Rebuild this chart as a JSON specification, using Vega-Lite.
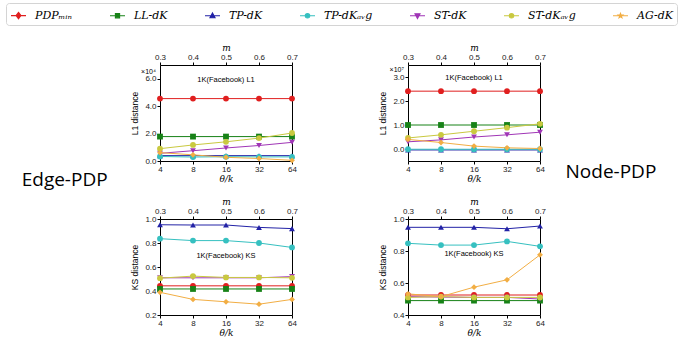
{
"$schema":"https://vega.github.io/schema/vega-lite/v6.json",
"padding":{"left":5,"top":2,"right":0,"bottom":0},
"datasets":{
"edgeL1":[
{"series":"PDPₘᵢₙ","theta":4,"m":0.3,"v":45500},{"series":"PDPₘᵢₙ","theta":8,"m":0.4,"v":45500},{"series":"PDPₘᵢₙ","theta":16,"m":0.5,"v":45500},{"series":"PDPₘᵢₙ","theta":32,"m":0.6,"v":45500},{"series":"PDPₘᵢₙ","theta":64,"m":0.7,"v":45500},
{"series":"LL-dK","theta":4,"m":0.3,"v":17800},{"series":"LL-dK","theta":8,"m":0.4,"v":17800},{"series":"LL-dK","theta":16,"m":0.5,"v":17800},{"series":"LL-dK","theta":32,"m":0.6,"v":17800},{"series":"LL-dK","theta":64,"m":0.7,"v":17800},
{"series":"TP-dK","theta":4,"m":0.3,"v":3900},{"series":"TP-dK","theta":8,"m":0.4,"v":3900},{"series":"TP-dK","theta":16,"m":0.5,"v":3900},{"series":"TP-dK","theta":32,"m":0.6,"v":3900},{"series":"TP-dK","theta":64,"m":0.7,"v":3900},
{"series":"TP-dKₐᵥg","theta":4,"m":0.3,"v":3300},{"series":"TP-dKₐᵥg","theta":8,"m":0.4,"v":2900},{"series":"TP-dKₐᵥg","theta":16,"m":0.5,"v":3100},{"series":"TP-dKₐᵥg","theta":32,"m":0.6,"v":3000},{"series":"TP-dKₐᵥg","theta":64,"m":0.7,"v":3000},
{"series":"ST-dK","theta":4,"m":0.3,"v":5600},{"series":"ST-dK","theta":8,"m":0.4,"v":7500},{"series":"ST-dK","theta":16,"m":0.5,"v":9500},{"series":"ST-dK","theta":32,"m":0.6,"v":11300},{"series":"ST-dK","theta":64,"m":0.7,"v":13600},
{"series":"ST-dKₐᵥg","theta":4,"m":0.3,"v":9000},{"series":"ST-dKₐᵥg","theta":8,"m":0.4,"v":11700},{"series":"ST-dKₐᵥg","theta":16,"m":0.5,"v":14000},{"series":"ST-dKₐᵥg","theta":32,"m":0.6,"v":16700},{"series":"ST-dKₐᵥg","theta":64,"m":0.7,"v":20400},
{"series":"AG-dK","theta":4,"m":0.3,"v":6100},{"series":"AG-dK","theta":8,"m":0.4,"v":4500},{"series":"AG-dK","theta":16,"m":0.5,"v":2700},{"series":"AG-dK","theta":32,"m":0.6,"v":1800},{"series":"AG-dK","theta":64,"m":0.7,"v":500}
],
"nodeL1":[
{"series":"PDPₘᵢₙ","theta":4,"m":0.3,"v":24100000},{"series":"PDPₘᵢₙ","theta":8,"m":0.4,"v":24100000},{"series":"PDPₘᵢₙ","theta":16,"m":0.5,"v":24100000},{"series":"PDPₘᵢₙ","theta":32,"m":0.6,"v":24100000},{"series":"PDPₘᵢₙ","theta":64,"m":0.7,"v":24100000},
{"series":"LL-dK","theta":4,"m":0.3,"v":10000000},{"series":"LL-dK","theta":8,"m":0.4,"v":10000000},{"series":"LL-dK","theta":16,"m":0.5,"v":10000000},{"series":"LL-dK","theta":32,"m":0.6,"v":10000000},{"series":"LL-dK","theta":64,"m":0.7,"v":10000000},
{"series":"TP-dK","theta":4,"m":0.3,"v":-400000},{"series":"TP-dK","theta":8,"m":0.4,"v":-400000},{"series":"TP-dK","theta":16,"m":0.5,"v":-400000},{"series":"TP-dK","theta":32,"m":0.6,"v":-400000},{"series":"TP-dK","theta":64,"m":0.7,"v":-400000},
{"series":"TP-dKₐᵥg","theta":4,"m":0.3,"v":-100000},{"series":"TP-dKₐᵥg","theta":8,"m":0.4,"v":-100000},{"series":"TP-dKₐᵥg","theta":16,"m":0.5,"v":-100000},{"series":"TP-dKₐᵥg","theta":32,"m":0.6,"v":-100000},{"series":"TP-dKₐᵥg","theta":64,"m":0.7,"v":-100000},
{"series":"ST-dK","theta":4,"m":0.3,"v":3000000},{"series":"ST-dK","theta":8,"m":0.4,"v":3800000},{"series":"ST-dK","theta":16,"m":0.5,"v":5000000},{"series":"ST-dK","theta":32,"m":0.6,"v":5900000},{"series":"ST-dK","theta":64,"m":0.7,"v":7000000},
{"series":"ST-dKₐᵥg","theta":4,"m":0.3,"v":4600000},{"series":"ST-dKₐᵥg","theta":8,"m":0.4,"v":5900000},{"series":"ST-dKₐᵥg","theta":16,"m":0.5,"v":7400000},{"series":"ST-dKₐᵥg","theta":32,"m":0.6,"v":8900000},{"series":"ST-dKₐᵥg","theta":64,"m":0.7,"v":10500000},
{"series":"AG-dK","theta":4,"m":0.3,"v":4000000},{"series":"AG-dK","theta":8,"m":0.4,"v":2700000},{"series":"AG-dK","theta":16,"m":0.5,"v":1200000},{"series":"AG-dK","theta":32,"m":0.6,"v":500000},{"series":"AG-dK","theta":64,"m":0.7,"v":200000}
],
"edgeKS":[
{"series":"PDPₘᵢₙ","theta":4,"m":0.3,"v":0.443},{"series":"PDPₘᵢₙ","theta":8,"m":0.4,"v":0.443},{"series":"PDPₘᵢₙ","theta":16,"m":0.5,"v":0.443},{"series":"PDPₘᵢₙ","theta":32,"m":0.6,"v":0.443},{"series":"PDPₘᵢₙ","theta":64,"m":0.7,"v":0.443},
{"series":"LL-dK","theta":4,"m":0.3,"v":0.417},{"series":"LL-dK","theta":8,"m":0.4,"v":0.417},{"series":"LL-dK","theta":16,"m":0.5,"v":0.417},{"series":"LL-dK","theta":32,"m":0.6,"v":0.417},{"series":"LL-dK","theta":64,"m":0.7,"v":0.417},
{"series":"TP-dK","theta":4,"m":0.3,"v":0.952},{"series":"TP-dK","theta":8,"m":0.4,"v":0.95},{"series":"TP-dK","theta":16,"m":0.5,"v":0.95},{"series":"TP-dK","theta":32,"m":0.6,"v":0.93},{"series":"TP-dK","theta":64,"m":0.7,"v":0.92},
{"series":"TP-dKₐᵥg","theta":4,"m":0.3,"v":0.836},{"series":"TP-dKₐᵥg","theta":8,"m":0.4,"v":0.82},{"series":"TP-dKₐᵥg","theta":16,"m":0.5,"v":0.82},{"series":"TP-dKₐᵥg","theta":32,"m":0.6,"v":0.8},{"series":"TP-dKₐᵥg","theta":64,"m":0.7,"v":0.763},
{"series":"ST-dK","theta":4,"m":0.3,"v":0.51},{"series":"ST-dK","theta":8,"m":0.4,"v":0.51},{"series":"ST-dK","theta":16,"m":0.5,"v":0.51},{"series":"ST-dK","theta":32,"m":0.6,"v":0.51},{"series":"ST-dK","theta":64,"m":0.7,"v":0.52},
{"series":"ST-dKₐᵥg","theta":4,"m":0.3,"v":0.507},{"series":"ST-dKₐᵥg","theta":8,"m":0.4,"v":0.524},{"series":"ST-dKₐᵥg","theta":16,"m":0.5,"v":0.513},{"series":"ST-dKₐᵥg","theta":32,"m":0.6,"v":0.513},{"series":"ST-dKₐᵥg","theta":64,"m":0.7,"v":0.51},
{"series":"AG-dK","theta":4,"m":0.3,"v":0.389},{"series":"AG-dK","theta":8,"m":0.4,"v":0.33},{"series":"AG-dK","theta":16,"m":0.5,"v":0.31},{"series":"AG-dK","theta":32,"m":0.6,"v":0.29},{"series":"AG-dK","theta":64,"m":0.7,"v":0.33}
],
"nodeKS":[
{"series":"PDPₘᵢₙ","theta":4,"m":0.3,"v":0.525},{"series":"PDPₘᵢₙ","theta":8,"m":0.4,"v":0.525},{"series":"PDPₘᵢₙ","theta":16,"m":0.5,"v":0.525},{"series":"PDPₘᵢₙ","theta":32,"m":0.6,"v":0.525},{"series":"PDPₘᵢₙ","theta":64,"m":0.7,"v":0.525},
{"series":"LL-dK","theta":4,"m":0.3,"v":0.49},{"series":"LL-dK","theta":8,"m":0.4,"v":0.49},{"series":"LL-dK","theta":16,"m":0.5,"v":0.49},{"series":"LL-dK","theta":32,"m":0.6,"v":0.49},{"series":"LL-dK","theta":64,"m":0.7,"v":0.49},
{"series":"TP-dK","theta":4,"m":0.3,"v":0.948},{"series":"TP-dK","theta":8,"m":0.4,"v":0.948},{"series":"TP-dK","theta":16,"m":0.5,"v":0.948},{"series":"TP-dK","theta":32,"m":0.6,"v":0.939},{"series":"TP-dK","theta":64,"m":0.7,"v":0.956},
{"series":"TP-dKₐᵥg","theta":4,"m":0.3,"v":0.848},{"series":"TP-dKₐᵥg","theta":8,"m":0.4,"v":0.837},{"series":"TP-dKₐᵥg","theta":16,"m":0.5,"v":0.837},{"series":"TP-dKₐᵥg","theta":32,"m":0.6,"v":0.86},{"series":"TP-dKₐᵥg","theta":64,"m":0.7,"v":0.829},
{"series":"ST-dK","theta":4,"m":0.3,"v":0.515},{"series":"ST-dK","theta":8,"m":0.4,"v":0.512},{"series":"ST-dK","theta":16,"m":0.5,"v":0.51},{"series":"ST-dK","theta":32,"m":0.6,"v":0.51},{"series":"ST-dK","theta":64,"m":0.7,"v":0.5},
{"series":"ST-dKₐᵥg","theta":4,"m":0.3,"v":0.51},{"series":"ST-dKₐᵥg","theta":8,"m":0.4,"v":0.515},{"series":"ST-dKₐᵥg","theta":16,"m":0.5,"v":0.51},{"series":"ST-dKₐᵥg","theta":32,"m":0.6,"v":0.51},{"series":"ST-dKₐᵥg","theta":64,"m":0.7,"v":0.51},
{"series":"AG-dK","theta":4,"m":0.3,"v":0.532},{"series":"AG-dK","theta":8,"m":0.4,"v":0.515},{"series":"AG-dK","theta":16,"m":0.5,"v":0.574},{"series":"AG-dK","theta":32,"m":0.6,"v":0.62},{"series":"AG-dK","theta":64,"m":0.7,"v":0.776}
]
},
"columns":2,
"spacing":{"row":58,"column":116},
"bounds":"flush",
"concat":[
{
"width":132,"height":96,
"data":{"name":"edgeL1"},
"layer":[
{"layer":[
{"mark":{"type":"line","strokeWidth":1},
"encoding":{
"x":{"field":"theta","type":"quantitative","title":"θ/k","scale":{"type":"log","base":2,"domain":[4,64]},"axis":{"values":[4,8,16,32,64],"format":"d","labelOverlap":false}},
"y":{"field":"v","type":"quantitative","title":"L1 distance","scale":{"domain":[0,65200]},"axis":{"values":[0,20000,40000,60000],"labelExpr":"format(datum.value/10000,'.1f')","labelOverlap":false,"labelSeparation":0}},
"color":{"field":"series","type":"nominal",
"scale":{"domain":["PDPₘᵢₙ","LL-dK","TP-dK","TP-dKₐᵥg","ST-dK","ST-dKₐᵥg","AG-dK"],"range":["#e01f1f","#178217","#2222a6","#36c0c0","#a036b6","#c9c940","#f2ae44"]},
"legend":{"orient":"none","legendX":-154,"legendY":-62,"direction":"horizontal","columns":7,"title":null,"symbolSize":225,"symbolStrokeWidth":1.1,"labelOffset":8,"columnPadding":34,"padding":4,"strokeColor":"#d4d4d4","fillColor":"#ffffff","cornerRadius":3,"labelFont":"DejaVu Serif","labelFontStyle":"italic","labelFontSize":11,"labelColor":"#000",
"encode":{"symbols":{"update":{
"shape":{"signal":"['M-1,0H1M0,-0.42L0.32,0L0,0.42L-0.32,0Z','M-1,0H1M-0.28,-0.28H0.28V0.28H-0.28Z','M-1,0H1M0,-0.38L0.34,0.26H-0.34Z','M-1,0H1M0.3,0A0.3,0.3,0,1,1,-0.3,0A0.3,0.3,0,1,1,0.3,0Z','M-1,0H1M0,0.38L0.34,-0.26H-0.34Z','M-1,0H1M0.3,0A0.3,0.3,0,1,1,-0.3,0A0.3,0.3,0,1,1,0.3,0Z','M-1,0H1M0,-0.32L0.08,-0.1L0.3,-0.1L0.12,0.04L0.19,0.26L0,0.13L-0.19,0.26L-0.12,0.04L-0.3,-0.1L-0.08,-0.1Z'][datum.index]"},
"fill":{"signal":"scale('color', datum.value)"},
"stroke":{"signal":"scale('color', datum.value)"},
"size":{"value":225},
"opacity":{"value":1}}}}}}
}},
{"mark":{"type":"point","filled":true,"size":34,"opacity":1},
"encoding":{"x":{"field":"theta","type":"quantitative","title":"θ/k","axis":{"values":[4,8,16,32,64],"format":"d","labelOverlap":false}},"y":{"field":"v","type":"quantitative","title":"L1 distance","axis":{"values":[0,20000,40000,60000],"labelExpr":"format(datum.value/10000,'.1f')","labelOverlap":false,"labelSeparation":0}},"color":{"field":"series","type":"nominal"},
"shape":{"condition":[{"test":"datum.series === 'LL-dK'","value":"square"},{"test":"datum.series === 'TP-dK'","value":"triangle-up"},{"test":"datum.series === 'ST-dK'","value":"triangle-down"},{"test":"datum.series === 'AG-dK'","value":"diamond"}],"value":"circle"}}},
{"data":{"values":[{}]},"mark":{"type":"text","fontSize":7.5,"font":"Liberation Sans","color":"#000"},"encoding":{"x":{"datum":16,"title":"θ/k","axis":{"values":[4,8,16,32,64],"format":"d","labelOverlap":false}},"y":{"datum":58900,"title":"L1 distance","axis":{"values":[0,20000,40000,60000],"labelExpr":"format(datum.value/10000,'.1f')","labelOverlap":false,"labelSeparation":0}},"text":{"value":"1K(Facebook) L1"}}},
{"data":{"values":[{}]},"mark":{"type":"text","fontSize":7,"font":"Liberation Sans","align":"right","baseline":"middle","dx":-4,"color":"#000"},"encoding":{"x":{"datum":4,"title":"θ/k","axis":{"values":[4,8,16,32,64],"format":"d","labelOverlap":false}},"y":{"datum":65200,"title":"L1 distance","axis":{"values":[0,20000,40000,60000],"labelExpr":"format(datum.value/10000,'.1f')","labelOverlap":false,"labelSeparation":0}},"text":{"value":"×10⁴"}}},
{"data":{"values":[{}]},"mark":{"type":"text","fontSize":19,"font":"Open Sans","color":"#000"},"encoding":{"x":{"datum":0.54,"title":"θ/k","axis":{"values":[4,8,16,32,64],"format":"d","labelOverlap":false}},"y":{"datum":-13600,"title":"L1 distance","axis":{"values":[0,20000,40000,60000],"labelExpr":"format(datum.value/10000,'.1f')","labelOverlap":false,"labelSeparation":0}},"text":{"value":"Edge-PDP"}}}
]},
{"mark":{"type":"point","opacity":0},"encoding":{"x":{"field":"m","type":"quantitative","title":"m","scale":{"domain":[0.3,0.7]},"axis":{"orient":"top","values":[0.3,0.4,0.5,0.6,0.7],"format":".1f","labelOverlap":false}}}}
],
"resolve":{"scale":{"x":"independent"}}
},
{
"width":132,"height":96,
"data":{"name":"nodeL1"},
"layer":[
{"layer":[
{"mark":{"type":"line","strokeWidth":1},
"encoding":{
"x":{"field":"theta","type":"quantitative","title":"θ/k","scale":{"type":"log","base":2,"domain":[4,64]},"axis":{"values":[4,8,16,32,64],"format":"d","labelOverlap":false}},
"y":{"field":"v","type":"quantitative","title":"L1 distance","scale":{"domain":[-1540000,32750000]},"axis":{"values":[0,10000000,20000000,30000000],"labelExpr":"format(datum.value/10000000,'.1f')","labelOverlap":false,"labelSeparation":0}},
"color":{"field":"series","type":"nominal"}
}},
{"mark":{"type":"point","filled":true,"size":34,"opacity":1},
"encoding":{"x":{"field":"theta","type":"quantitative","title":"θ/k","axis":{"values":[4,8,16,32,64],"format":"d","labelOverlap":false}},"y":{"field":"v","type":"quantitative","title":"L1 distance","axis":{"values":[0,10000000,20000000,30000000],"labelExpr":"format(datum.value/10000000,'.1f')","labelOverlap":false,"labelSeparation":0}},"color":{"field":"series","type":"nominal"},
"shape":{"condition":[{"test":"datum.series === 'LL-dK'","value":"square"},{"test":"datum.series === 'TP-dK'","value":"triangle-up"},{"test":"datum.series === 'ST-dK'","value":"triangle-down"},{"test":"datum.series === 'AG-dK'","value":"diamond"}],"value":"circle"}}},
{"data":{"values":[{}]},"mark":{"type":"text","fontSize":7.5,"font":"Liberation Sans","color":"#000"},"encoding":{"x":{"datum":16,"title":"θ/k","axis":{"values":[4,8,16,32,64],"format":"d","labelOverlap":false}},"y":{"datum":29640000,"title":"L1 distance","axis":{"values":[0,10000000,20000000,30000000],"labelExpr":"format(datum.value/10000000,'.1f')","labelOverlap":false,"labelSeparation":0}},"text":{"value":"1K(Facebook) L1"}}},
{"data":{"values":[{}]},"mark":{"type":"text","fontSize":7,"font":"Liberation Sans","align":"right","baseline":"middle","dx":-4,"color":"#000"},"encoding":{"x":{"datum":4,"title":"θ/k","axis":{"values":[4,8,16,32,64],"format":"d","labelOverlap":false}},"y":{"datum":32750000,"title":"L1 distance","axis":{"values":[0,10000000,20000000,30000000],"labelExpr":"format(datum.value/10000000,'.1f')","labelOverlap":false,"labelSeparation":0}},"text":{"value":"×10⁷"}}},
{"data":{"values":[{}]},"mark":{"type":"text","fontSize":19,"font":"Open Sans","color":"#000"},"encoding":{"x":{"datum":284,"title":"θ/k","axis":{"values":[4,8,16,32,64],"format":"d","labelOverlap":false}},"y":{"datum":-9750000,"title":"L1 distance","axis":{"values":[0,10000000,20000000,30000000],"labelExpr":"format(datum.value/10000000,'.1f')","labelOverlap":false,"labelSeparation":0}},"text":{"value":"Node-PDP"}}}
]},
{"mark":{"type":"point","opacity":0},"encoding":{"x":{"field":"m","type":"quantitative","title":"m","scale":{"domain":[0.3,0.7]},"axis":{"orient":"top","values":[0.3,0.4,0.5,0.6,0.7],"format":".1f","labelOverlap":false}}}}
],
"resolve":{"scale":{"x":"independent"}}
},
{
"width":132,"height":96,
"data":{"name":"edgeKS"},
"layer":[
{"layer":[
{"mark":{"type":"line","strokeWidth":1},
"encoding":{
"x":{"field":"theta","type":"quantitative","title":"θ/k","scale":{"type":"log","base":2,"domain":[4,64]},"axis":{"values":[4,8,16,32,64],"format":"d","labelOverlap":false}},
"y":{"field":"v","type":"quantitative","title":"KS distance","scale":{"domain":[0.2,1.0]},"axis":{"values":[0.2,0.4,0.6,0.8,1.0],"format":".1f","labelOverlap":false,"labelSeparation":0}},
"color":{"field":"series","type":"nominal"}
}},
{"mark":{"type":"point","filled":true,"size":34,"opacity":1},
"encoding":{"x":{"field":"theta","type":"quantitative","title":"θ/k","axis":{"values":[4,8,16,32,64],"format":"d","labelOverlap":false}},"y":{"field":"v","type":"quantitative","title":"KS distance","axis":{"values":[0.2,0.4,0.6,0.8,1.0],"format":".1f","labelOverlap":false,"labelSeparation":0}},"color":{"field":"series","type":"nominal"},
"shape":{"condition":[{"test":"datum.series === 'LL-dK'","value":"square"},{"test":"datum.series === 'TP-dK'","value":"triangle-up"},{"test":"datum.series === 'ST-dK'","value":"triangle-down"},{"test":"datum.series === 'AG-dK'","value":"diamond"}],"value":"circle"}}},
{"data":{"values":[{}]},"mark":{"type":"text","fontSize":7.5,"font":"Liberation Sans","color":"#000"},"encoding":{"x":{"datum":16,"title":"θ/k","axis":{"values":[4,8,16,32,64],"format":"d","labelOverlap":false}},"y":{"datum":0.688,"title":"KS distance","axis":{"values":[0.2,0.4,0.6,0.8,1.0],"format":".1f","labelOverlap":false,"labelSeparation":0}},"text":{"value":"1K(Facebook) KS"}}}
]},
{"mark":{"type":"point","opacity":0},"encoding":{"x":{"field":"m","type":"quantitative","title":"m","scale":{"domain":[0.3,0.7]},"axis":{"orient":"top","values":[0.3,0.4,0.5,0.6,0.7],"format":".1f","labelOverlap":false}}}}
],
"resolve":{"scale":{"x":"independent"}}
},
{
"width":132,"height":96,
"data":{"name":"nodeKS"},
"layer":[
{"layer":[
{"mark":{"type":"line","strokeWidth":1},
"encoding":{
"x":{"field":"theta","type":"quantitative","title":"θ/k","scale":{"type":"log","base":2,"domain":[4,64]},"axis":{"values":[4,8,16,32,64],"format":"d","labelOverlap":false}},
"y":{"field":"v","type":"quantitative","title":"KS distance","scale":{"domain":[0.4,1.0]},"axis":{"values":[0.4,0.6,0.8,1.0],"format":".1f","labelOverlap":false,"labelSeparation":0}},
"color":{"field":"series","type":"nominal"}
}},
{"mark":{"type":"point","filled":true,"size":34,"opacity":1},
"encoding":{"x":{"field":"theta","type":"quantitative","title":"θ/k","axis":{"values":[4,8,16,32,64],"format":"d","labelOverlap":false}},"y":{"field":"v","type":"quantitative","title":"KS distance","axis":{"values":[0.4,0.6,0.8,1.0],"format":".1f","labelOverlap":false,"labelSeparation":0}},"color":{"field":"series","type":"nominal"},
"shape":{"condition":[{"test":"datum.series === 'LL-dK'","value":"square"},{"test":"datum.series === 'TP-dK'","value":"triangle-up"},{"test":"datum.series === 'ST-dK'","value":"triangle-down"},{"test":"datum.series === 'AG-dK'","value":"diamond"}],"value":"circle"}}},
{"data":{"values":[{}]},"mark":{"type":"text","fontSize":7.5,"font":"Liberation Sans","color":"#000"},"encoding":{"x":{"datum":16,"title":"θ/k","axis":{"values":[4,8,16,32,64],"format":"d","labelOverlap":false}},"y":{"datum":0.78,"title":"KS distance","axis":{"values":[0.4,0.6,0.8,1.0],"format":".1f","labelOverlap":false,"labelSeparation":0}},"text":{"value":"1K(Facebook) KS"}}}
]},
{"mark":{"type":"point","opacity":0},"encoding":{"x":{"field":"m","type":"quantitative","title":"m","scale":{"domain":[0.3,0.7]},"axis":{"orient":"top","values":[0.3,0.4,0.5,0.6,0.7],"format":".1f","labelOverlap":false}}}}
],
"resolve":{"scale":{"x":"independent"}}
}
],
"config":{
"font":"Liberation Sans",
"view":{"stroke":"#000","strokeWidth":1},
"axis":{"grid":false,"domain":false,"tickSize":3,"tickColor":"#000","labelFont":"Liberation Sans","labelFontSize":8,"labelColor":"#222","labelPadding":1,"labelFlush":false,"labelOverlap":false,"titleFont":"Liberation Sans","titleFontSize":8.5,"titleFontWeight":"normal","titleColor":"#000"},
"axisX":{"titleFont":"DejaVu Serif","titleFontStyle":"italic","titleFontSize":9,"titlePadding":1},
"axisY":{"titlePadding":5}
}
}
